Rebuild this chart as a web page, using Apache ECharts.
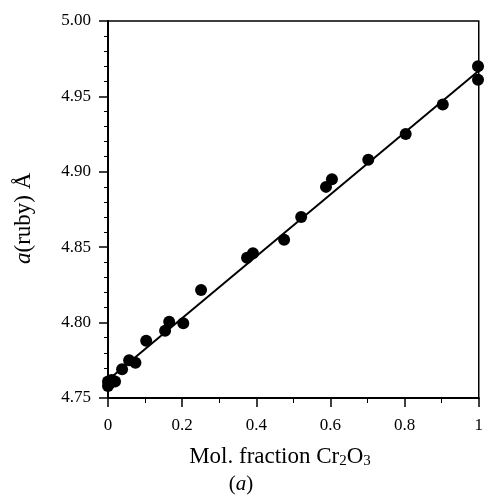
<!DOCTYPE html>
<html>
<head>
<meta charset="utf-8">
<script src="https://cdn.jsdelivr.net/npm/echarts@6/dist/echarts.min.js"></script>
<style>html,body{margin:0;padding:0;background:#fff}#c{width:486px;height:499px}</style>
</head>
<body>
<div id="c"></div>
<script>
var molFraction = [0, 0, 0.005, 0.01, 0.019, 0.038, 0.057, 0.074, 0.103, 0.154, 0.165, 0.203, 0.251, 0.375, 0.391, 0.475, 0.521, 0.588, 0.604, 0.702, 0.803, 0.903, 0.998, 0.998];
var aRuby = [4.758, 4.761, 4.760, 4.762, 4.761, 4.769, 4.775, 4.7734, 4.788, 4.7946, 4.8006, 4.7995, 4.8216, 4.843, 4.846, 4.855, 4.870, 4.890, 4.895, 4.908, 4.925, 4.9447, 4.970, 4.961];
var fitX = [0, 1];
var fitY = [4.762, 4.967];

var FONT = 'Liberation Serif';
var chart = echarts.init(document.getElementById('c'));
var pts = molFraction.map(function (x, i) { return [x, aRuby[i]]; });
var fit = fitX.map(function (x, i) { return [x, fitY[i]]; });

chart.setOption({
  animation: false,
  backgroundColor: '#fff',
  grid: { left: 108, top: 21, width: 376, height: 377, show: true, borderColor: '#000', borderWidth: 1.5, backgroundColor: 'transparent' },
  xAxis: {
    type: 'value', min: 0, max: 1, interval: 0.2,
    axisLine: { lineStyle: { color: '#000', width: 2 } },
    axisTick: { show: true, length: 9, lineStyle: { color: '#000', width: 1.5 } },
    minorTick: { show: true, splitNumber: 2, length: 5, lineStyle: { color: '#000', width: 1 } },
    splitLine: { show: false },
    axisLabel: { margin: 19, color: '#000', fontFamily: FONT, fontSize: 17,
      formatter: function (v) { return (v === 0 || v === 1) ? String(v) : v.toFixed(1); } }
  },
  yAxis: {
    type: 'value', min: 4.75, max: 5.0, interval: 0.05,
    axisLine: { lineStyle: { color: '#000', width: 2 } },
    axisTick: { show: true, length: 9, lineStyle: { color: '#000', width: 1.5 } },
    minorTick: { show: true, splitNumber: 5, length: 4, lineStyle: { color: '#000', width: 1 } },
    splitLine: { show: false },
    axisLabel: { margin: 17, color: '#000', fontFamily: FONT, fontSize: 17,
      formatter: function (v) { return v.toFixed(2); } }
  },
  series: [
    { type: 'line', data: fit, symbol: 'none', lineStyle: { color: '#000', width: 2 }, z: 2 },
    { type: 'scatter', data: pts, symbol: 'circle', symbolSize: 12, clip: false, itemStyle: { color: '#000', opacity: 1 }, z: 3 }
  ],
  graphic: [
    { type: 'text', x: 280, y: 444, style: {
      text: 'Mol. fraction Cr{s|2}O{s|3}', fill: '#000', align: 'center', font: '23px "Liberation Serif"',
      rich: { s: { fontSize: 15, fontFamily: FONT, verticalAlign: 'bottom', padding: [10, 0, 0, 0] } } } },
    { type: 'text', x: 241, y: 474, style: {
      text: '({i|a})', fill: '#000', align: 'center', font: '21px "Liberation Serif"',
      rich: { i: { fontStyle: 'italic', fontSize: 21, fontFamily: FONT } } } },
    { type: 'text', x: 12, y: 264, rotation: Math.PI / 2, style: {
      text: '{i|a}(ruby) Å', fill: '#000', font: '23px "Liberation Serif"',
      rich: { i: { fontStyle: 'italic', fontSize: 23, fontFamily: FONT } } } }
  ]
});
</script>
</body>
</html>
